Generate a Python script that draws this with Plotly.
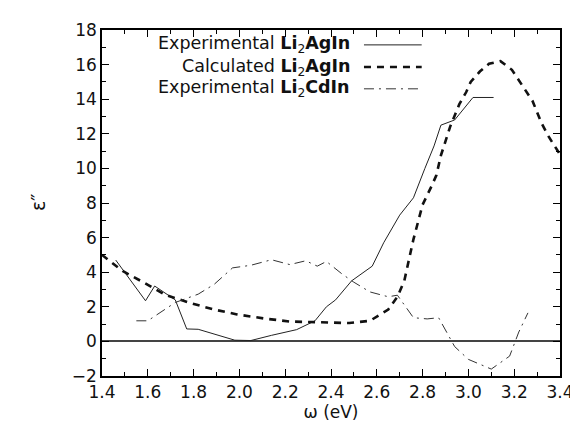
import plotly.graph_objects as go

# Experimental Li2AgIn (solid)
ag_exp_x = [1.46, 1.59, 1.63, 1.72, 1.77, 1.82, 1.98, 2.05, 2.14, 2.25, 2.33, 2.38, 2.42,
            2.49, 2.58, 2.63, 2.70, 2.76, 2.81, 2.85, 2.88, 2.94, 3.02, 3.11]
ag_exp_y = [4.7, 2.35, 3.2, 2.4, 0.72, 0.7, 0.07, 0.05, 0.35, 0.68, 1.19, 2.0, 2.4,
            3.5, 4.35, 5.7, 7.3, 8.3, 10.0, 11.3, 12.5, 12.8, 14.1, 14.1]

# Calculated Li2AgIn (dashed)
calc_x = [1.40, 1.49, 1.58, 1.68, 1.79, 1.89, 1.99, 2.11, 2.22, 2.32, 2.48, 2.57, 2.65,
          2.69, 2.72, 2.76, 2.80, 2.84, 2.86, 2.88, 2.90, 2.92, 2.96, 2.99, 3.01, 3.05,
          3.09, 3.14, 3.19, 3.22, 3.25, 3.28, 3.32, 3.35, 3.40]
calc_y = [5.0, 4.07, 3.42, 2.67, 2.2, 1.84, 1.56, 1.32, 1.15, 1.1, 1.06, 1.19, 1.84,
          2.58, 3.5, 5.9, 7.9, 9.0, 9.6, 10.75, 11.6, 12.4, 13.7, 14.4, 15.0, 15.6,
          16.05, 16.2, 15.7, 15.1, 14.55, 13.9, 12.6, 11.85, 10.8]

# Experimental Li2CdIn (dash-dot)
cd_x = [1.55, 1.60, 1.72, 1.82, 1.89, 1.97, 2.05, 2.14, 2.22, 2.29, 2.34, 2.38, 2.45,
        2.50, 2.57, 2.65, 2.69, 2.76, 2.82, 2.87, 2.94, 3.00, 3.10, 3.18, 3.22, 3.26]
cd_y = [1.19, 1.19, 2.25, 2.73, 3.3, 4.25, 4.4, 4.72, 4.44, 4.66, 4.35, 4.62, 3.88,
        3.42, 2.86, 2.58, 2.67, 1.37, 1.3, 1.37, -0.3, -1.04, -1.6, -0.85, 0.54, 1.65]

legend_labels = ["Experimental <b>Li</b><sub>2</sub><b>AgIn</b>",
                 "Calculated <b>Li</b><sub>2</sub><b>AgIn</b>",
                 "Experimental <b>Li</b><sub>2</sub><b>CdIn</b>"]

FONT = "DejaVu Sans"
styles = [dict(color="#222", width=1, dash="solid"),
          dict(color="#111", width=2.6, dash="7px,6px"),
          dict(color="#333", width=1, dash="10px,5px,2px,5px")]

fig = go.Figure()
for xs, ys, st in [(ag_exp_x, ag_exp_y, styles[0]), (calc_x, calc_y, styles[1]), (cd_x, cd_y, styles[2])]:
    fig.add_trace(go.Scatter(x=xs, y=ys, mode="lines", line=st, showlegend=False))

# legend (text right-aligned, sample line to the right)
leg_y = [0.957, 0.893, 0.830]
for lab, ly, st in zip(legend_labels, leg_y, styles):
    fig.add_annotation(xref="paper", yref="paper", x=0.545, y=ly, text=lab, showarrow=False,
                       xanchor="right", yanchor="middle", font=dict(family=FONT, size=17.5, color="#111"))
    fig.add_shape(type="line", xref="paper", yref="paper", x0=0.572, x1=0.698, y0=ly, y1=ly,
                  line=st)

fig.add_annotation(xref="paper", yref="paper", x=-0.168, y=0.5, text="ε″", showarrow=False,
                   textangle=-90, font=dict(family=FONT, size=19, color="#111"))

axis_common = dict(showgrid=False, showline=True, linecolor="black", linewidth=1.5, mirror="allticks",
                   ticks="inside", ticklen=7, tickcolor="black", tickwidth=1,
                   tickfont=dict(family=FONT, size=17, color="#111"))

fig.update_xaxes(range=[1.4, 3.4], dtick=0.2, tick0=1.4, tickformat=".1f", zeroline=False,
                 minor=dict(dtick=0.1, ticks="inside", ticklen=4, tickcolor="black"),
                 title=dict(text="ω (eV)", font=dict(family=FONT, size=17, color="#111"), standoff=5),
                 **axis_common)
fig.update_yaxes(range=[-2, 18], dtick=2, zeroline=True, zerolinecolor="#444", zerolinewidth=1.5,
                 minor=dict(dtick=1, ticks="inside", ticklen=4, tickcolor="black"),
                 **axis_common)

fig.update_layout(width=578, height=441, margin=dict(l=94, r=14, t=12, b=73),
                  plot_bgcolor="white", paper_bgcolor="white", showlegend=False)

fig.write_html("out.html")
